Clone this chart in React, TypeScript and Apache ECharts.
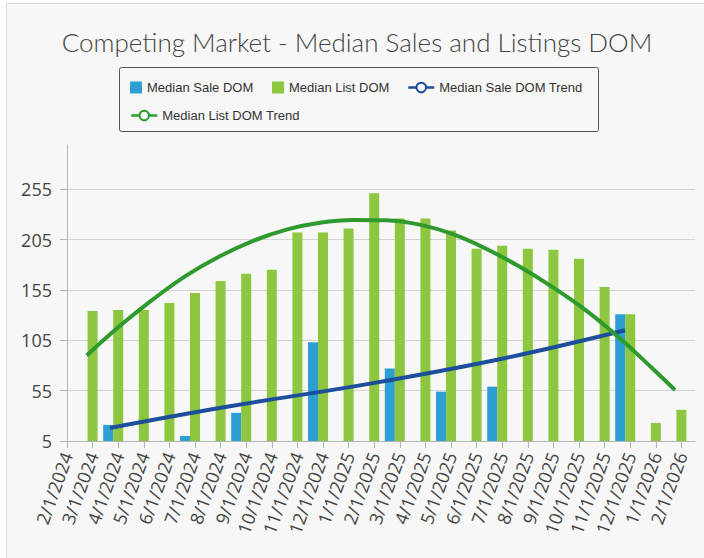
import React, { useEffect, useRef } from "react";
import * as echarts from "echarts";

const dates = [
  "2/1/2024", "3/1/2024", "4/1/2024", "5/1/2024", "6/1/2024", "7/1/2024", "8/1/2024",
  "9/1/2024", "10/1/2024", "11/1/2024", "12/1/2024", "1/1/2025", "2/1/2025", "3/1/2025",
  "4/1/2025", "5/1/2025", "6/1/2025", "7/1/2025", "8/1/2025", "9/1/2025", "10/1/2025",
  "11/1/2025", "12/1/2025", "1/1/2026", "2/1/2026",
];

const medianListDom: (number | null)[] = [
  null, 134, 135, 135, 142, 152, 164, 171, 175, 212, 212, 216, 251,
  226, 226, 214, 196, 199, 196, 195, 186, 158, 131, 23, 36,
];

const medianSaleDom: (number | null)[] = [
  null, null, 21, null, null, 10, null, 33, null, null, 103, null, null,
  77, null, 54, null, 59, null, null, null, null, 131, null, null,
];

// trend lines: [position in months from 2/1/2024, value]
const listTrend: [number, number][] = [
  [0.77, 90], [2.07, 119.4], [3.37, 145.9], [4.67, 169.5], [5.97, 188.5],
  [7.27, 203.8], [8.57, 215], [9.87, 221.8], [11.17, 224.6], [12.47, 224.2],
  [13.77, 219.9], [15.07, 210.5], [16.37, 196], [17.67, 178.3], [18.97, 157.8],
  [20.27, 134.8], [21.57, 107.6], [22.87, 77], [23.75, 55.6],
];

const saleTrend: [number, number][] = [
  [1.68, 18], [6.24, 39], [11.84, 62], [17.04, 87], [21.8, 115],
];

const yTicks = [5, 55, 105, 155, 205, 255];

const TITLE = "Competing Market - Median Sales and Listings DOM";
const FONT = "'Open Sans', 'Noto Sans', sans-serif";
const TITLE_FONT = "Lato, 'Open Sans', sans-serif";
const LEGEND_FONT = "'Liberation Sans', Arial, sans-serif";

const C_SALE = "#2D9FD2";
const C_LIST = "#8DC63F";
const C_SALE_TREND = "#1D4E9B";
const C_LIST_TREND = "#2E9A2E";

export default function App() {
  const ref = useRef<HTMLDivElement>(null);

  useEffect(() => {
    if (!ref.current) return;
    const chart = echarts.init(ref.current, null, { renderer: "svg" });
    const xIdx = dates.map((_, i) => i);

    const legendText = { fontFamily: LEGEND_FONT, fontSize: 13, color: "#333" };
    const legendBase = {
      orient: "horizontal" as const,
      padding: 0,
      selectedMode: false,
      textStyle: legendText,
    };

    chart.setOption({
      animation: false,
      backgroundColor: "transparent",
      graphic: [
        {
          type: "text",
          x: 357,
          y: 42,
          style: {
            text: TITLE,
            textAlign: "center",
            textVerticalAlign: "middle",
            fontFamily: TITLE_FONT,
            fontWeight: 300,
            fontSize: 26,
            fill: "#444",
          },
        },
        {
          type: "rect",
          shape: { x: 119.5, y: 67.5, width: 479, height: 64, r: 2 },
          style: { fill: "none", stroke: "#555", lineWidth: 1 },
        },
      ],
      legend: [
        { ...legendBase, left: 130, top: 81, itemWidth: 12, itemHeight: 12, data: [{ name: "Median Sale DOM", icon: "rect" }] },
        { ...legendBase, left: 272, top: 81, itemWidth: 12, itemHeight: 12, data: [{ name: "Median List DOM", icon: "rect" }] },
        { ...legendBase, left: 407, top: 81, itemWidth: 26, itemHeight: 12, data: [{ name: "Median Sale DOM Trend", lineStyle: { width: 2.5 } }] },
        { ...legendBase, left: 130, top: 109, itemWidth: 26, itemHeight: 12, data: [{ name: "Median List DOM Trend", lineStyle: { width: 2.5 } }] },
      ],
      grid: { left: 67, right: 9, top: 145, bottom: 117, containLabel: false },
      xAxis: {
        type: "value",
        min: 0,
        max: 24.53,
        interval: 1,
        axisLine: { show: true, lineStyle: { color: "#b5b5b5", width: 1 } },
        axisTick: { show: true, length: 7, customValues: xIdx, lineStyle: { color: "#b5b5b5" } },
        splitLine: { show: false },
        axisLabel: {
          customValues: xIdx,
          formatter: (v: number) => dates[Math.round(v)] ?? "",
          rotate: 70,
          margin: 12,
          fontFamily: FONT,
          fontSize: 18,
          color: "#444",
        },
      },
      yAxis: {
        type: "value",
        min: 5,
        max: 299,
        interval: 50,
        axisLine: { show: true, lineStyle: { color: "#b5b5b5", width: 1 } },
        axisTick: { show: true, length: 7, customValues: yTicks, lineStyle: { color: "#b5b5b5" } },
        splitLine: { show: true, lineStyle: { color: "#d4d4d4", width: 1 } },
        axisLabel: {
          customValues: yTicks,
          margin: 15,
          fontFamily: FONT,
          fontSize: 18,
          color: "#444",
        },
      },
      series: [
        {
          name: "Median Sale DOM",
          type: "bar",
          barWidth: 10,
          barGap: "0%",
          itemStyle: { color: C_SALE },
          data: medianSaleDom.map((v, i) => [i, v]),
        },
        {
          name: "Median List DOM",
          type: "bar",
          barWidth: 10,
          barGap: "0%",
          itemStyle: { color: C_LIST },
          data: medianListDom.map((v, i) => [i, v]),
        },
        {
          name: "_pad",
          type: "bar",
          barWidth: 10,
          barGap: "0%",
          data: [],
        },
        {
          name: "Median Sale DOM Trend",
          type: "line",
          smooth: 0.4,
          symbol: "emptyCircle",
          showSymbol: false,
          lineStyle: { color: C_SALE_TREND, width: 4 },
          itemStyle: { color: C_SALE_TREND },
          data: saleTrend,
          z: 5,
        },
        {
          name: "Median List DOM Trend",
          type: "line",
          smooth: 0.4,
          symbol: "emptyCircle",
          showSymbol: false,
          lineStyle: { color: C_LIST_TREND, width: 4 },
          itemStyle: { color: C_LIST_TREND },
          data: listTrend,
          z: 5,
        },
      ],
    });

    return () => chart.dispose();
  }, []);

  return (
    <div style={{ position: "fixed", left: 0, top: 0, width: 704, height: 558, background: "#fff", overflow: "hidden" }}>
      <div
        style={{
          position: "absolute",
          left: 6,
          top: 3,
          width: 720,
          height: 600,
          border: "1px solid #d8d8d8",
          background: "#f7f7f7",
        }}
      />
      <div ref={ref} style={{ position: "absolute", left: 0, top: 0, width: 704, height: 558 }} />
    </div>
  );
}
